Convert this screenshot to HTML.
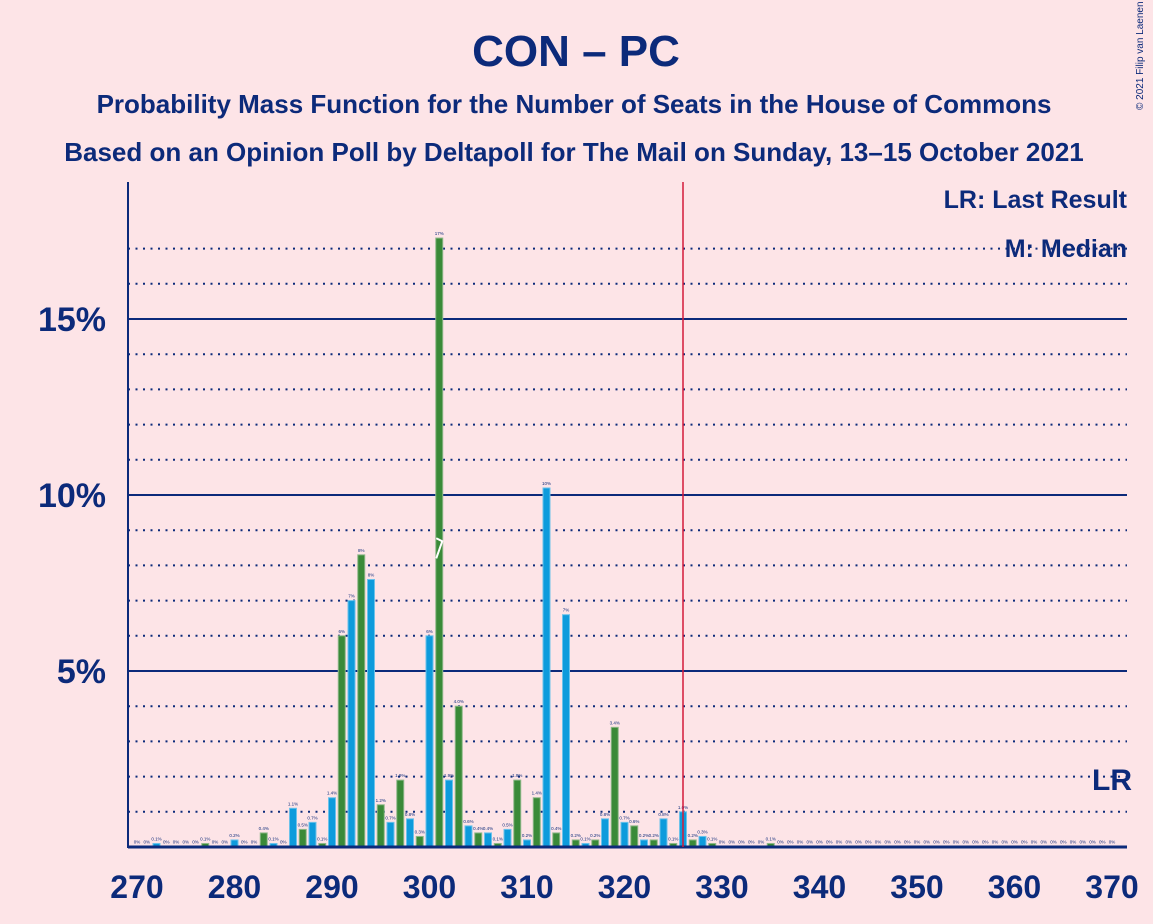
<!DOCTYPE html>
<html><head><meta charset="utf-8"><style>
body{margin:0;background:#fde4e7;}
svg{display:block;font-family:"Liberation Sans",sans-serif;}
</style></head><body>
<svg id="c" width="1153" height="924" viewBox="0 0 1153 924">
<rect width="1153" height="924" fill="#fde4e7"/>
<text x="576" y="66" text-anchor="middle" font-size="44" font-weight="bold" fill="#0c2a7a">CON – PC</text>
<text x="574" y="113" text-anchor="middle" font-size="26" font-weight="bold" fill="#0c2a7a">Probability Mass Function for the Number of Seats in the House of Commons</text>
<text x="574" y="161" text-anchor="middle" font-size="26" font-weight="bold" fill="#0c2a7a">Based on an Opinion Poll by Deltapoll for The Mail on Sunday, 13–15 October 2021</text>
<text x="1143" y="110" font-size="10" fill="#0c2a7a" transform="rotate(-90 1143 110)">© 2021 Filip van Laenen</text>
<g id="grid"></g>
<g id="bars"></g>
<line x1="128" y1="182" x2="128" y2="848" stroke="#0c2a7a" stroke-width="2"/>
<line x1="128" y1="847" x2="1127" y2="847" stroke="#0c2a7a" stroke-width="3"/>
<line id="lrline" x1="683" y1="182" x2="683" y2="847" stroke="#d41a3a" stroke-width="1.5"/>
<text x="1127" y="208" text-anchor="end" font-size="25" font-weight="bold" fill="#0c2a7a">LR: Last Result</text>
<text x="1127" y="257" text-anchor="end" font-size="25" font-weight="bold" fill="#0c2a7a">M: Median</text>
<text x="1132" y="790" text-anchor="end" font-size="30" font-weight="bold" fill="#0c2a7a">LR</text>
<g id="xt"></g><g id="yt"></g>
</svg>
<script>
const seats=[];for(let s=270;s<=370;s++)seats.push(s);
const probs=[0,0,0.1,0,0,0,0,0.1,0,0,0.2,0,0,0.4,0.1,0,1.1,0.5,0.7,0.1,1.4,6.0,7.0,8.3,7.6,1.2,0.7,1.9,0.8,0.3,6.0,17.3,1.9,4.0,0.6,0.4,0.4,0.1,0.5,1.9,0.2,1.4,10.2,0.4,6.6,0.2,0.1,0.2,0.8,3.4,0.7,0.6,0.2,0.2,0.8,0.1,1.0,0.2,0.3,0.1,0,0,0,0,0,0.1];
while(probs.length<seats.length)probs.push(0);
const xTicks=[270,280,290,300,310,320,330,340,350,360,370];
const yTicks=[5,10,15];
const yTickLabels=["5%","10%","15%"];
const median=301;
const ns="http://www.w3.org/2000/svg";
const X=s=>137+(s-270)*9.75, Y=p=>847-p*35.2;
function mk(t,a,parent){const e=document.createElementNS(ns,t);for(const k in a)e.setAttribute(k,a[k]);document.getElementById(parent).appendChild(e);return e;}
for(let p=1;p<=17;p++){
 const solid=p%5===0;
 const l=mk('line',{x1:128,x2:1127,y1:Y(p),y2:Y(p),stroke:'#0c2a7a','stroke-width':2,'stroke-dasharray':solid?'':'2 5.5'},'grid');
 
 
}
yTicks.forEach((v,i)=>{const t=mk('text',{x:106,y:Y(v)+12,'text-anchor':'end','font-size':34,'font-weight':'bold',fill:'#0c2a7a'},'yt');t.textContent=yTickLabels[i];
 
 });
xTicks.forEach(v=>{const t=mk('text',{x:X(v),y:898,'text-anchor':'middle','font-size':32,'font-weight':'bold',fill:'#0c2a7a'},'xt');t.textContent=v;
 
 });
seats.forEach((s,i)=>{
 const p=probs[i];const blue=s%2===0;
 const h=Math.max(p*35.2,0.6);
 const r=mk('rect',{x:X(s)-3.5,y:847-h,width:7,height:h,fill:blue?'#0d9bdc':'#3a8a38',stroke:blue?'#6cc2ea':'#8fb88a','stroke-width':1},'bars');
 
 
 const t=mk('text',{x:X(s),y:847-h-3,'text-anchor':'middle','font-size':4.5,fill:'#0c2a7a'},'bars');
 t.textContent=p===0?'0%':(p<5?p.toFixed(1)+'%':Math.round(p)+'%');
 
 
});
const m=mk('polyline',{points:`${X(median)-3},${Y(8.2)} ${X(median)+3},${Y(8.6)-3} ${X(median)-3},${Y(8.6)-6}`,fill:'none',stroke:'#fff','stroke-width':2},'bars');


</script>
</body></html>
